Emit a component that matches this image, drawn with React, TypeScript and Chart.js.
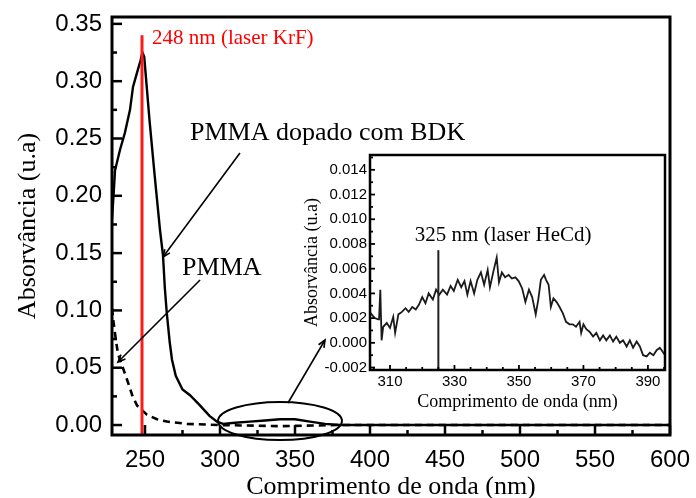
import React, { useEffect, useRef } from "react";
import { Chart, registerables } from "chart.js";

Chart.register(...registerables);

// ---------- Main chart data ----------
const bdkWavelength = [228, 229, 230, 233.3, 236.6, 240, 242, 244.6, 247, 248.3, 249.5, 253, 256.5, 260, 262, 263.2, 264.5, 266.5, 268, 270.5, 275, 280, 286, 293, 298, 302, 310, 320, 330, 340, 350, 360, 370, 380, 400, 450, 500, 550, 600];
const bdkAbsorbance = [0.18, 0.2, 0.222, 0.24, 0.255, 0.275, 0.295, 0.307, 0.318, 0.325, 0.321, 0.266, 0.217, 0.17, 0.148, 0.12, 0.098, 0.072, 0.057, 0.043, 0.031, 0.026, 0.018, 0.008, 0.003, 0.001, 0.002, 0.003, 0.004, 0.005, 0.005, 0.003, 0.001, 0.0, 0.0, 0.0, 0.0, 0.0, 0.0];

const pmmaWavelength = [228, 229, 230.5, 232, 234.7, 238.7, 241.5, 244.7, 248, 251.3, 258, 264.7, 278, 300, 340, 380, 450, 525, 600];
const pmmaAbsorbance = [0.102, 0.09, 0.075, 0.062, 0.052, 0.037, 0.026, 0.017, 0.013, 0.009, 0.005, 0.003, 0.001, 0.0, -0.001, 0.0, 0.0, 0.0, 0.0];

const laserKrF = 248;
const laserKrFTop = 0.34;

const mainXTicks = [250, 300, 350, 400, 450, 500, 550, 600];
const mainXMinor = [275, 325, 375, 425, 475, 525, 575];
const mainYTicks = [0, 0.05, 0.1, 0.15, 0.2, 0.25, 0.3, 0.35];
const mainYMinor = [0.025, 0.075, 0.125, 0.175, 0.225, 0.275, 0.325];

// ---------- Inset data ----------
const insetWavelength = [304.0, 304.3, 305.3, 306.3, 306.6, 307.0, 307.4, 307.9, 309, 310, 311, 311.6, 312.6, 313.7, 314.8, 315.8, 316.9, 318, 319, 320, 321, 322, 323.3, 324.3, 325.3, 326.4, 327.7, 328.8, 329.8, 331, 332.1, 333.1, 334, 335, 336.1, 337.1, 338.2, 339.2, 340.3, 341, 342.1, 343.1, 343.8, 344.7, 345.7, 346.8, 347.8, 348.9, 349.9, 351, 352, 353.1, 354.1, 355.2, 356, 356.8, 357.8, 358.4, 359.2, 359.9, 360.7, 361.7, 362.6, 363.6, 364.6, 365.7, 366.7, 367.7, 368.8, 369.3, 370, 370.9, 371.9, 373, 374, 375.1, 376.1, 377.1, 378.2, 379.2, 380.2, 381.3, 382.3, 383.4, 384.4, 385.4, 386.5, 387.5, 388.5, 389.6, 390.6, 391.7, 392.7, 393.7, 394.8, 395.3];
const insetAbsorbance = [0.0024, 0.0023, 0.002, 0.0019, 0.0019, 0.0043, 0.0002, 0.0013, 0.0016, 0.0012, 0.0021, 0.0008, 0.0023, 0.0025, 0.0028, 0.0025, 0.0029, 0.0027, 0.0031, 0.0037, 0.0032, 0.004, 0.0035, 0.0043, 0.0039, 0.0043, 0.0039, 0.0046, 0.0042, 0.0051, 0.0045, 0.005, 0.0039, 0.005, 0.004, 0.0051, 0.0057, 0.0047, 0.0059, 0.0045, 0.0058, 0.0069, 0.0049, 0.0057, 0.0053, 0.0055, 0.0052, 0.0053, 0.005, 0.0044, 0.0033, 0.0043, 0.0037, 0.0023, 0.0035, 0.0051, 0.0055, 0.0051, 0.0047, 0.0029, 0.0036, 0.0033, 0.0029, 0.0024, 0.0017, 0.0015, 0.0015, 0.0013, 0.0017, 0.0008, 0.0015, 0.0011, 0.0009, 0.0005, 0.0008, 0.0002, 0.0006, 0.0002, 0.0006, 0.0001, 0.0005, 0.0, 0.0002, -0.0003, 0.0002, -0.0004, 0.0001, -0.0003, -0.001, -0.0011, -0.0008, -0.001, -0.0006, -0.0004, -0.0008, -0.001];

const laserHeCd = 325;
const laserHeCdTop = 0.0075;

const insetXTicks = [310, 330, 350, 370, 390];
const insetXMinor = [305, 315, 320, 325, 335, 340, 345, 355, 360, 365, 375, 380, 385, 395];
const insetYTicks = [-0.002, 0, 0.002, 0.004, 0.006, 0.008, 0.01, 0.012, 0.014];
const insetYMinor = [-0.001, 0.001, 0.003, 0.005, 0.007, 0.009, 0.011, 0.013, 0.015];

// ---------- Annotations (data coordinates) ----------
const mainTexts = [
  { text: "248 nm (laser KrF)", x: 254.7, y: 0.3325, color: "#ff0000", size: 21 },
  { text: "PMMA dopado com BDK", x: 280, y: 0.2487, color: "#000", size: 26 },
  { text: "PMMA", x: 274.7, y: 0.1309, color: "#000", size: 26 },
];
const mainArrows = [
  { x1: 313.3, y1: 0.2373, x2: 262, y2: 0.1466 },
  { x1: 286.7, y1: 0.1265, x2: 232, y2: 0.055 },
  { x1: 345.3, y1: 0.0192, x2: 370, y2: 0.0742 },
];
const mainEllipse = { x: 340, y: 0.0035, rx: 41.3, ry: 0.0166 };
const insetTexts = [{ text: "325 nm (laser HeCd)", x: 317.7, y: 0.0082, color: "#000", size: 21 }];

const SANS = "'Liberation Sans', Arial, sans-serif";
const SERIF = "'Liberation Serif', 'Times New Roman', serif";

function pts(xs: number[], ys: number[]) {
  return xs.map((x, i) => ({ x, y: ys[i] }));
}

function framePlugin(cfg: any) {
  return {
    id: "frame" + cfg.id,
    afterDraw(chart: any) {
      const { ctx, chartArea: a, scales } = chart;
      const xs = scales.x;
      const ys = scales.y;
      ctx.save();
      ctx.strokeStyle = "#000";
      ctx.lineWidth = cfg.tickWidth;
      ctx.lineCap = "butt";
      const xt = (vals: number[], len: number) => {
        vals.forEach((v) => {
          const px = xs.getPixelForValue(v);
          ctx.beginPath();
          ctx.moveTo(px, a.bottom);
          ctx.lineTo(px, a.bottom - len);
          ctx.stroke();
        });
      };
      const yt = (vals: number[], len: number) => {
        vals.forEach((v) => {
          const py = ys.getPixelForValue(v);
          ctx.beginPath();
          ctx.moveTo(a.left, py);
          ctx.lineTo(a.left + len, py);
          ctx.stroke();
        });
      };
      xt(cfg.xMajor, cfg.majorLen);
      xt(cfg.xMinor, cfg.minorLen);
      yt(cfg.yMajor, cfg.majorLen);
      yt(cfg.yMinor, cfg.minorLen);
      ctx.lineWidth = cfg.frameWidth;
      ctx.strokeRect(a.left, a.top, a.right - a.left, a.bottom - a.top);
      ctx.restore();
    },
  };
}

function textPlugin(id: string, texts: any[], arrows: any[], ellipse: any) {
  return {
    id: "notes" + id,
    afterDraw(chart: any) {
      const { ctx, scales } = chart;
      const X = (v: number) => scales.x.getPixelForValue(v);
      const Y = (v: number) => scales.y.getPixelForValue(v);
      ctx.save();
      texts.forEach((t) => {
        ctx.font = `${t.size}px ${SERIF}`;
        ctx.fillStyle = t.color;
        ctx.textAlign = "left";
        ctx.textBaseline = "alphabetic";
        ctx.fillText(t.text, X(t.x), Y(t.y));
      });
      ctx.strokeStyle = "#000";
      ctx.lineWidth = 1.6;
      arrows.forEach((ar) => {
        const x1 = X(ar.x1), y1 = Y(ar.y1), x2 = X(ar.x2), y2 = Y(ar.y2);
        ctx.beginPath();
        ctx.moveTo(x1, y1);
        ctx.lineTo(x2, y2);
        ctx.stroke();
        const ang = Math.atan2(y2 - y1, x2 - x1);
        const L = 8;
        const s = 0.4;
        ctx.beginPath();
        ctx.moveTo(x2 - L * Math.cos(ang - s), y2 - L * Math.sin(ang - s));
        ctx.lineTo(x2, y2);
        ctx.lineTo(x2 - L * Math.cos(ang + s), y2 - L * Math.sin(ang + s));
        ctx.stroke();
      });
      if (ellipse) {
        const cx = X(ellipse.x), cy = Y(ellipse.y);
        const rx = X(ellipse.x + ellipse.rx) - cx;
        const ry = cy - Y(ellipse.y + ellipse.ry);
        ctx.lineWidth = 2;
        ctx.beginPath();
        ctx.ellipse(cx, cy, rx, ry, 0, 0, Math.PI * 2);
        ctx.stroke();
      }
      ctx.restore();
    },
  };
}

function fixX(h: number) {
  return (s: any) => {
    s.height = h;
    s.paddingLeft = 0;
    s.paddingRight = 0;
  };
}
function fixY(w: number) {
  return (s: any) => {
    s.width = w;
    s.paddingTop = 0;
    s.paddingBottom = 0;
  };
}

export default function App() {
  const mainRef = useRef<HTMLCanvasElement>(null);
  const insetRef = useRef<HTMLCanvasElement>(null);

  useEffect(() => {
    const yMin = -0.0087;
    const main = new Chart(mainRef.current!, {
      type: "scatter",
      data: {
        datasets: [
          {
            data: [{ x: laserKrF, y: yMin }, { x: laserKrF, y: laserKrFTop }],
            showLine: true,
            borderColor: "#ff1a1a",
            borderWidth: 3,
            pointRadius: 0,
            order: 0,
          },
          {
            data: pts(bdkWavelength, bdkAbsorbance),
            showLine: true,
            borderColor: "#000",
            borderWidth: 2.4,
            pointRadius: 0,
            order: 1,
          },
          {
            data: pts(pmmaWavelength, pmmaAbsorbance),
            showLine: true,
            borderColor: "#000",
            borderWidth: 2.6,
            borderDash: [7, 5],
            pointRadius: 0,
            order: 2,
          },
        ],
      },
      options: {
        animation: false,
        responsive: false,
        maintainAspectRatio: false,
        layout: { padding: { top: 17, right: 26, left: 0, bottom: 0 } },
        plugins: { legend: { display: false }, tooltip: { enabled: false } },
        scales: {
          x: {
            type: "linear",
            min: 228,
            max: 600,
            afterFit: fixX(63),
            afterBuildTicks: (s: any) => { s.ticks = mainXTicks.map((v) => ({ value: v })); },
            grid: { display: false, drawTicks: false },
            border: { display: false },
            ticks: {
              autoSkip: false,
              maxRotation: 0,
              padding: 11,
              color: "#000",
              font: { family: SANS, size: 24 },
              callback: (v: any) => String(v),
            },
            title: {
              display: true,
              text: "Comprimento de onda (nm)",
              color: "#000",
              font: { family: SERIF, size: 26, lineHeight: 0.85 },
              padding: { top: 0, bottom: 0 },
            },
          },
          y: {
            type: "linear",
            min: yMin,
            max: 0.356,
            afterFit: fixY(112),
            afterBuildTicks: (s: any) => { s.ticks = mainYTicks.map((v) => ({ value: v })); },
            grid: { display: false, drawTicks: false },
            border: { display: false },
            ticks: {
              autoSkip: false,
              padding: 10,
              color: "#000",
              font: { family: SANS, size: 24 },
              callback: (v: any) => Number(v).toFixed(2),
            },
            title: {
              display: true,
              text: "Absorvância (u.a)",
              color: "#000",
              font: { family: SERIF, size: 26, lineHeight: 1 },
              padding: { top: 15, bottom: 0 },
            },
          },
        },
      },
      plugins: [
        framePlugin({ id: "main", xMajor: mainXTicks, xMinor: mainXMinor, yMajor: mainYTicks, yMinor: mainYMinor, majorLen: 10, minorLen: 5, tickWidth: 2.5, frameWidth: 3 }),
        textPlugin("main", mainTexts, mainArrows, mainEllipse),
      ],
    } as any);

    const iyMin = -0.0022;
    const inset = new Chart(insetRef.current!, {
      type: "scatter",
      data: {
        datasets: [
          {
            data: [{ x: laserHeCd, y: iyMin }, { x: laserHeCd, y: laserHeCdTop }],
            showLine: true,
            borderColor: "#222",
            borderWidth: 2,
            pointRadius: 0,
            order: 0,
          },
          {
            data: pts(insetWavelength, insetAbsorbance),
            showLine: true,
            borderColor: "#1a1a1a",
            borderWidth: 1.8,
            pointRadius: 0,
            order: 1,
          },
        ],
      },
      options: {
        animation: false,
        responsive: false,
        maintainAspectRatio: false,
        layout: { padding: { top: 15, right: 5, left: 0, bottom: 0 } },
        plugins: { legend: { display: false }, tooltip: { enabled: false } },
        scales: {
          x: {
            type: "linear",
            min: 303.8,
            max: 395.3,
            afterFit: fixX(45),
            afterBuildTicks: (s: any) => { s.ticks = insetXTicks.map((v) => ({ value: v })); },
            grid: { display: false, drawTicks: false },
            border: { display: false },
            ticks: {
              autoSkip: false,
              maxRotation: 0,
              padding: 3,
              color: "#000",
              font: { family: SANS, size: 15 },
              callback: (v: any) => String(v),
            },
            title: {
              display: true,
              text: "Comprimento de onda (nm)",
              color: "#000",
              font: { family: SERIF, size: 18, lineHeight: 1 },
              padding: { top: 0, bottom: 4 },
            },
          },
          y: {
            type: "linear",
            min: iyMin,
            max: 0.0152,
            afterFit: fixY(70),
            afterBuildTicks: (s: any) => { s.ticks = insetYTicks.map((v) => ({ value: v })); },
            grid: { display: false, drawTicks: false },
            border: { display: false },
            ticks: {
              autoSkip: false,
              padding: 3,
              color: "#000",
              font: { family: SANS, size: 15 },
              callback: (v: any) => Number(v).toFixed(3),
            },
            title: {
              display: true,
              text: "Absorvância (u.a)",
              color: "#000",
              font: { family: SERIF, size: 18, lineHeight: 1 },
              padding: { top: 3, bottom: 0 },
            },
          },
        },
      },
      plugins: [
        framePlugin({ id: "inset", xMajor: insetXTicks, xMinor: insetXMinor, yMajor: insetYTicks, yMinor: insetYMinor, majorLen: 5, minorLen: 3, tickWidth: 1.8, frameWidth: 2.5 }),
        textPlugin("inset", insetTexts, [], null),
      ],
    } as any);

    return () => {
      main.destroy();
      inset.destroy();
    };
  }, []);

  return (
    <div style={{ position: "absolute", left: 0, top: 0, width: 696, height: 498, background: "#fff" }}>
      <canvas ref={mainRef} width={696} height={498} style={{ position: "absolute", left: 0, top: 0, width: 696, height: 498 }} />
      <canvas ref={insetRef} width={370} height={275} style={{ position: "absolute", left: 300, top: 140, width: 370, height: 275 }} />
    </div>
  );
}
